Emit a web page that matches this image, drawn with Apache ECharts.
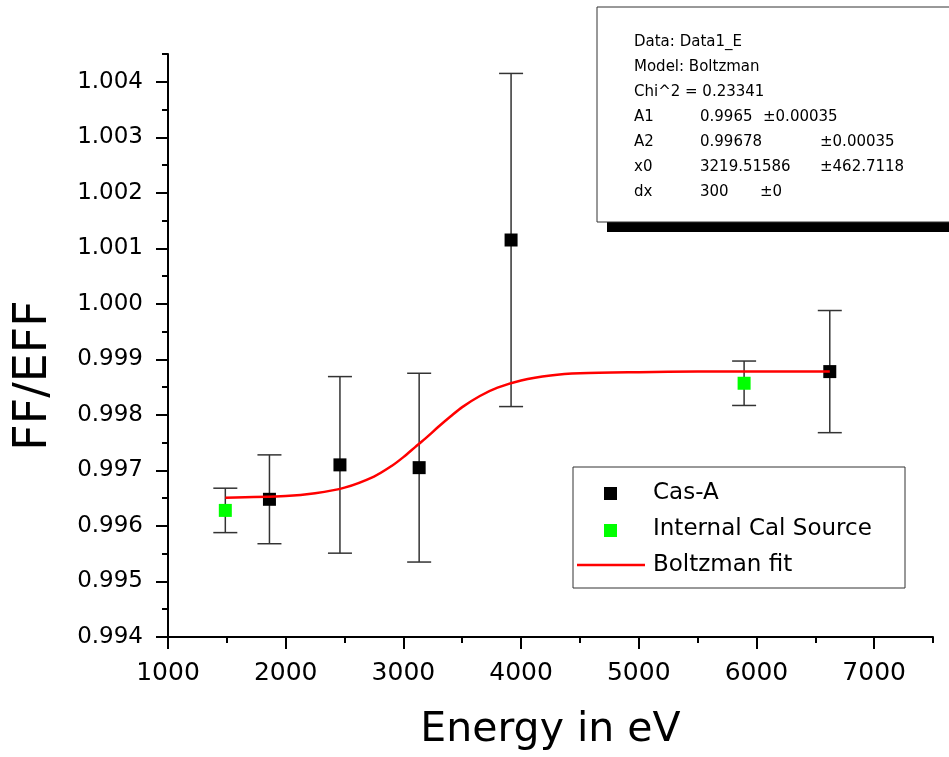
<!DOCTYPE html>
<html>
<head>
<meta charset="utf-8">
<script src="https://cdn.jsdelivr.net/npm/echarts@6/dist/echarts.min.js"></script>
<style>html,body{margin:0;padding:0;background:#fff}#c{width:949px;height:757px}</style>
</head>
<body>
<div id="c"></div>
<script>
// ---- data ----
const casX = [1862, 2461, 3134, 3915, 6623];
const casY = [0.99648, 0.99710, 0.99705, 1.00115, 0.99878];
const casErr = [0.00080, 0.00159, 0.00170, 0.00300, 0.00110];

const calX = [1487, 5895];
const calY = [0.99628, 0.99857];
const calErr = [0.00040, 0.00040];

const fitX = [1487, 2000, 2250, 2500, 2750, 2900, 3000, 3100, 3200, 3300, 3400, 3500, 3650, 3800, 4000, 4250, 4500, 5000, 5500, 6000, 6623];
const fitY = [0.99651, 0.99654, 0.99659, 0.99669, 0.99689, 0.99708, 0.99724, 0.99742, 0.99760, 0.99779, 0.99797, 0.99814, 0.99834, 0.99849, 0.99862, 0.99871, 0.99875, 0.99877, 0.99878, 0.99878, 0.99878];

const xMajor = [1000, 2000, 3000, 4000, 5000, 6000, 7000];
const xMinor = [1500, 2500, 3500, 4500, 5500, 6500, 7500];
const yMajor = [0.994, 0.995, 0.996, 0.997, 0.998, 0.999, 1.000, 1.001, 1.002, 1.003, 1.004];
const yMinor = [0.9945, 0.9955, 0.9965, 0.9975, 0.9985, 0.9995, 1.0005, 1.0015, 1.0025, 1.0035, 1.0045];

const legendNames = ['Cas-A', 'Internal Cal Source', 'Boltzman fit'];
// [text, column x]
const fitInfo = [
  [['Data: Data1_E', 634]],
  [['Model: Boltzman', 634]],
  [['Chi^2 = 0.23341', 634]],
  [['A1', 634], ['0.9965', 700], ['\u00b10.00035', 763]],
  [['A2', 634], ['0.99678', 700], ['\u00b10.00035', 820]],
  [['x0', 634], ['3219.51586', 700], ['\u00b1462.7118', 820]],
  [['dx', 634], ['300', 700], ['\u00b10', 760]]
];

// ---- build ----
const FONT = 'DejaVu Sans';
const casData = casX.map((x, i) => [x, casY[i]]);
const calData = calX.map((x, i) => [x, calY[i]]);
const errData = casX.map((x, i) => [x, casY[i], casErr[i]])
  .concat(calX.map((x, i) => [x, calY[i], calErr[i]]));
const fitData = fitX.map((x, i) => [x, fitY[i]]);

function renderErr(params, api) {
  const x = api.value(0), y = api.value(1), e = api.value(2);
  const top = api.coord([x, y + e]);
  const bot = api.coord([x, y - e]);
  const hw = 12;
  const st = { stroke: '#333', lineWidth: 1.5 };
  return {
    type: 'group',
    children: [
      { type: 'line', shape: { x1: top[0], y1: top[1], x2: bot[0], y2: bot[1] }, style: st },
      { type: 'line', shape: { x1: top[0] - hw, y1: top[1], x2: top[0] + hw, y2: top[1] }, style: st },
      { type: 'line', shape: { x1: bot[0] - hw, y1: bot[1], x2: bot[0] + hw, y2: bot[1] }, style: st }
    ]
  };
}

const infoChildren = [
  { type: 'rect', shape: { x: 607, y: 222, width: 360, height: 10 }, style: { fill: '#000' } },
  { type: 'rect', shape: { x: 597, y: 7, width: 370, height: 215 }, style: { fill: '#fff', stroke: '#333', lineWidth: 1 } }
];
fitInfo.forEach((row, i) => {
  const y = 42 + i * 25;
  row.forEach(([t, cx]) => {
    infoChildren.push({ type: 'text', x: cx, y: y, style: { text: t, font: '15px "' + FONT + '"', fill: '#000', verticalAlign: 'middle' } });
  });
});

const legendChildren = [
  { type: 'rect', shape: { x: 573, y: 467, width: 332, height: 121 }, style: { fill: '#fff', stroke: '#333', lineWidth: 1 } },
  { type: 'rect', shape: { x: 604, y: 487, width: 13, height: 13 }, style: { fill: '#000' } },
  { type: 'rect', shape: { x: 604, y: 524, width: 13, height: 13 }, style: { fill: '#00ff00' } },
  { type: 'line', shape: { x1: 577, y1: 565, x2: 645, y2: 565 }, style: { stroke: '#ff0000', lineWidth: 2.5 } }
];
legendNames.forEach((n, i) => {
  legendChildren.push({ type: 'text', x: 653, y: 493 + i * 36, style: { text: n, font: '23px "' + FONT + '"', fill: '#000', verticalAlign: 'middle' } });
});

const chart = echarts.init(document.getElementById('c'), null, { renderer: 'canvas' });
chart.setOption({
  backgroundColor: '#fff',
  animation: false,
  grid: { left: 168, right: 16, top: 54, bottom: 120, containLabel: false, outerBoundsMode: 'none' },
  xAxis: [{
    type: 'value', min: 1000, max: 7500, position: 'bottom',
    name: 'Energy in eV', nameLocation: 'middle', nameGap: 73,
    nameTextStyle: { fontFamily: FONT, fontSize: 41, color: '#000' },
    axisLine: { show: true, onZero: false, lineStyle: { color: '#000', width: 2 } },
    axisTick: { show: true, inside: false, length: 12, customValues: xMajor, lineStyle: { color: '#000', width: 2 } },
    axisLabel: { show: true, margin: 24, customValues: xMajor, fontFamily: FONT, fontSize: 25, color: '#000', formatter: v => String(v) },
    splitLine: { show: false }
  }, {
    type: 'value', min: 1000, max: 7500, position: 'bottom',
    axisLine: { show: false, onZero: false },
    axisTick: { show: true, inside: false, length: 6, customValues: xMinor, lineStyle: { color: '#000', width: 2 } },
    axisLabel: { show: false },
    splitLine: { show: false }
  }],
  yAxis: [{
    type: 'value', min: 0.994, max: 1.0045, position: 'left',
    name: 'FF/EFF', nameLocation: 'middle', nameGap: 111, nameRotate: 90,
    nameTextStyle: { fontFamily: FONT, fontSize: 46, color: '#000', padding: [0, 60, 0, 0] },
    axisLine: { show: true, onZero: false, lineStyle: { color: '#000', width: 2 } },
    axisTick: { show: true, inside: false, length: 12, customValues: yMajor, lineStyle: { color: '#000', width: 2 } },
    axisLabel: { show: true, margin: 25, customValues: yMajor, fontFamily: FONT, fontSize: 23, color: '#000', formatter: v => v.toFixed(3) },
    splitLine: { show: false }
  }, {
    type: 'value', min: 0.994, max: 1.0045, position: 'left',
    axisLine: { show: false, onZero: false },
    axisTick: { show: true, inside: false, length: 6, customValues: yMinor, lineStyle: { color: '#000', width: 2 } },
    axisLabel: { show: false },
    splitLine: { show: false }
  }],
  series: [
    { name: 'errors', type: 'custom', renderItem: renderErr, data: errData, z: 2, silent: true },
    { name: legendNames[0], type: 'scatter', data: casData, symbol: 'rect', symbolSize: 13, itemStyle: { color: '#000', opacity: 1 }, z: 3 },
    { name: legendNames[1], type: 'scatter', data: calData, symbol: 'rect', symbolSize: 13, itemStyle: { color: '#00ff00', opacity: 1 }, z: 3 },
    { name: legendNames[2], type: 'line', data: fitData, smooth: 0.3, showSymbol: false, lineStyle: { color: '#ff0000', width: 2.5 }, z: 4 }
  ],
  graphic: [
    { type: 'group', children: infoChildren, z: 10 },
    { type: 'group', children: legendChildren, z: 10 }
  ]
});
</script>
</body>
</html>
